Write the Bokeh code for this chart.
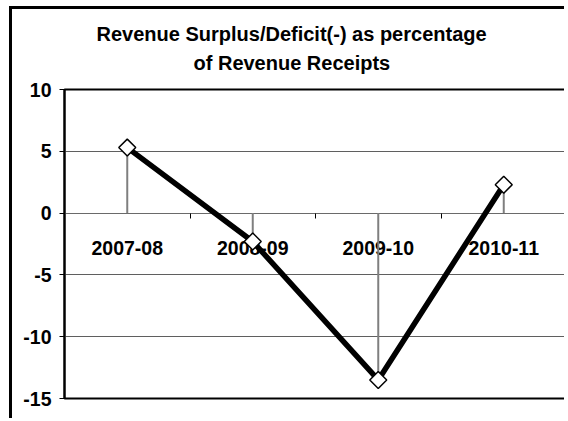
import math
from bokeh.plotting import figure
from bokeh.models import Range1d, LinearAxis, FixedTicker, Grid, Title
from bokeh.embed import file_html
from bokeh.resources import INLINE

# ---- data ----
categories = ["2007-08", "2008-09", "2009-10", "2010-11"]
values = [5.3, -2.3, -13.5, 2.3]
y_ticks = [-15, -10, -5, 0, 5, 10]
grid_ticks = [-10, -5, 0, 5]
title_lines = ["Revenue Surplus/Deficit(-) as percentage", "of Revenue Receipts"]

xs = list(range(len(categories)))
zeros = [0] * len(categories)
boundaries = [i + 0.5 for i in xs[:-1]]

FONT = "Liberation Sans"

p = figure(width=555, height=412,
           x_range=Range1d(-0.5, len(categories) - 0.5),
           y_range=Range1d(-15, 10),
           x_axis_type=None, y_axis_type=None,
           output_backend="svg", toolbar_location=None,
           min_border_left=52, min_border_right=1,
           min_border_top=80, min_border_bottom=23)
# outer chart-area frame: only its left and top edges fall inside the window
p.styles = {"margin-left": "9px", "margin-top": "6px",
            "border-left": "3px solid black", "border-top": "3px solid black"}
p.background_fill_color = "white"
p.border_fill_color = "white"
p.outline_line_color = "black"
p.outline_line_width = 2

# gridlines
p.add_layout(Grid(dimension=1, ticker=FixedTicker(ticks=grid_ticks),
                  grid_line_color="#5f5f5f", grid_line_width=1))

# y axis
yax = LinearAxis(ticker=FixedTicker(ticks=y_ticks),
                 major_label_overrides={t: str(t) for t in y_ticks})
yax.axis_line_color = "black"
yax.axis_line_width = 2
yax.major_tick_out = 5
yax.major_tick_in = 0
yax.major_tick_line_color = "black"
yax.minor_tick_line_color = None
yax.major_label_standoff = 8
yax.major_label_text_font = FONT
yax.major_label_text_font_style = "bold"
yax.major_label_text_font_size = "19.5px"
yax.major_label_text_color = "black"
p.add_layout(yax, "left")

# x axis at zero: tick marks between categories
xtick_ax = LinearAxis(ticker=FixedTicker(ticks=boundaries), fixed_location=0,
                      major_label_overrides={b: "" for b in boundaries})
xtick_ax.axis_line_color = "#6a6a6a"
xtick_ax.axis_line_width = 1
xtick_ax.major_tick_out = 5
xtick_ax.major_tick_in = 0
xtick_ax.major_tick_line_color = "black"
xtick_ax.minor_tick_line_color = None
p.add_layout(xtick_ax, "below")

# category labels
xlab_ax = LinearAxis(ticker=FixedTicker(ticks=xs), fixed_location=0,
                     major_label_overrides={i: c for i, c in zip(xs, categories)})
xlab_ax.axis_line_color = None
xlab_ax.major_tick_line_color = None
xlab_ax.minor_tick_line_color = None
xlab_ax.major_tick_out = 0
xlab_ax.major_tick_in = 0
xlab_ax.major_label_standoff = 28
xlab_ax.major_label_text_font = FONT
xlab_ax.major_label_text_font_style = "bold"
xlab_ax.major_label_text_font_size = "19.5px"
xlab_ax.major_label_text_color = "black"
p.add_layout(xlab_ax, "below")

# drop lines
p.segment(x0=xs, y0=zeros, x1=xs, y1=values, line_color="#7f7f7f",
          line_width=2, level="overlay")
# main line
p.line(xs, values, line_color="black", line_width=5.5, level="overlay")
# markers
p.scatter(xs, values, marker="square", angle=math.pi / 4, size=12,
          fill_color="white", line_color="black", line_width=1.5,
          level="overlay")

# two-line title (first added sits nearest the plot area)
for txt, off, so in zip(reversed(title_lines), [129, 32], [32, -22]):
    p.add_layout(Title(text=txt, align="left", offset=off, standoff=so,
                       text_font=FONT, text_font_style="bold",
                       text_font_size="20px", text_color="black"), "above")

open("out.html", "w").write(file_html(p, INLINE))
